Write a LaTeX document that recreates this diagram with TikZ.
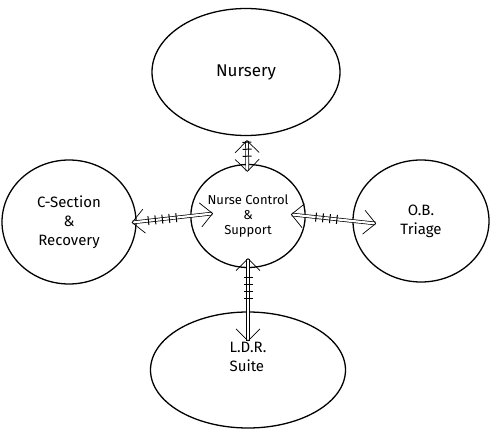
\documentclass[tikz,border=0pt]{standalone}
\usepackage{fontspec}
\setmainfont{Fira Sans}
\usetikzlibrary{arrows.meta,positioning,shapes.geometric,decorations.markings}

\begin{document}
\begin{tikzpicture}[x=1pt,y=1pt,
  room/.style={draw,ellipse,line width=1.3pt,inner sep=0pt,align=left,font=\fontsize{15}{19}\selectfont},
  link/.style={double,double distance=2.2pt,line width=0.7pt,
    >={Straight Barb[length=12pt,width=24pt]},<->,
    postaction={decorate,decoration={markings,
      mark=between positions 0.22 and 0.8 step 7pt with {\fill (-0.5pt,-4.5pt) rectangle (0.5pt,4.5pt);}}}}
]
\useasboundingbox (0,0) rectangle (491,432);
\node[room,minimum width=188pt,minimum height=127pt,font=\fontsize{17}{20}\selectfont] (nursery) at (246,360) {Nursery};
\node[room,minimum width=134pt,minimum height=124pt,align=center] (csec) at (69,210) {C-Section\\\&\\Recovery};
\node[room,minimum width=113pt,minimum height=103pt,align=center,font=\fontsize{13}{15}\selectfont] (nurse) at (248,216) {Nurse Control\\\&\\Support};
\node[room,minimum width=136pt,minimum height=122pt,align=center] (triage) at (421,211) {O.B.\\Triage};
\node[room,minimum width=195pt,minimum height=116pt] (ldr) at (248,62) {L.D.R.\\Suite\\[8pt]};
% links to the nurse station
\draw[link,shorten <=4pt,shorten >=-8pt] (nursery) -- (nurse);
\draw[link,shorten <=-5pt,shorten >=-23pt] (csec.east) -- (nurse.west);
\draw[link,shorten <=-15pt,shorten >=-24pt] (nurse.east) -- (triage.west);
\draw[link,shorten <=-10pt,shorten >=-30pt] (nurse.south) -- (ldr.north);
\end{tikzpicture}
\end{document}
